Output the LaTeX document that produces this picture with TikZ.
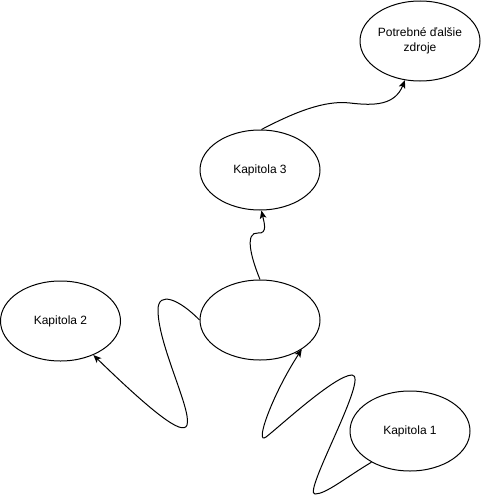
\documentclass[tikz,border=0pt]{standalone}
\usepackage{fontspec}
\setmainfont{Liberation Sans}
\usetikzlibrary{shapes.geometric,arrows.meta}
\tikzset{
  oval/.style={ellipse, draw, line width=0.75pt, minimum width=90pt, minimum height=60pt, inner sep=0pt, align=center, font=\fontsize{9}{11.25}\selectfont},
  link/.style={line width=0.75pt, -{Stealth[length=6pt,width=5pt,inset=1.5pt]}}
}
\begin{document}
\begin{tikzpicture}[x=0.75pt,y=-0.75pt]
\useasboundingbox (0,0) rectangle (481,496);
\node[oval] (zdroje) at (420,41) {Potrebné ďalšie\\zdroje};
\node[oval] (k3) at (260,170) {Kapitola 3};
\node[oval] (k2) at (60.5,321) {Kapitola 2};
\node[oval] (e) at (260,320) {};
\node[oval] (k1) at (410,431) {Kapitola 1};
% Kapitola 1 -> empty
\draw[link] (k1.219) .. controls (345,478) and (326,494) .. (315,494)
  .. controls (302,494) and (370,375) .. (352,375)
  .. controls (335,375) and (278,428) .. (266,437)
  .. controls (254,446) and (272,395) .. (e.325);
% empty -> Kapitola 2
\draw[link] (e.180) .. controls (180,300) and (158,290) .. (158,310)
  .. controls (158,345) and (192,410) .. (187,425)
  .. controls (183,437) and (150,410) .. (k2.314);
% empty -> Kapitola 3
\draw[link] (e.90) .. controls (250,255) and (245,232) .. (258,233)
  .. controls (268,234) and (264,222) .. (k3.272);
% Kapitola 3 -> zdroje
\draw[link] (k3.88) .. controls (295,112) and (325,100) .. (350,103)
  .. controls (375,106) and (395,105) .. (zdroje.249);
\end{tikzpicture}
\end{document}
